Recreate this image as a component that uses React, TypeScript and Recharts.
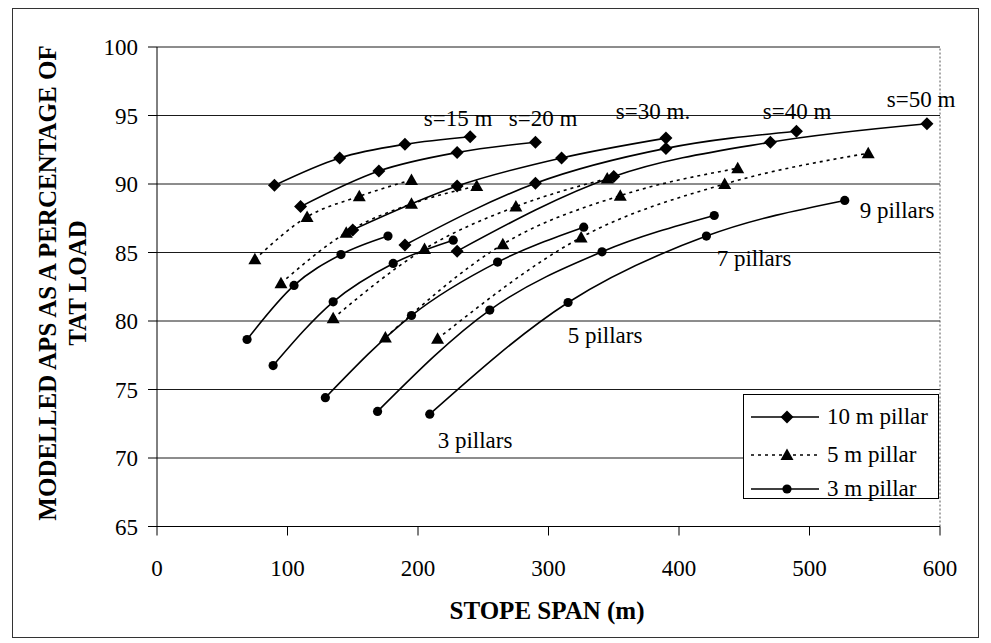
import React from 'react';
import { LineChart, Line, XAxis, YAxis, CartesianGrid, ReferenceLine } from 'recharts';

const SERIF = '"Liberation Serif", "Times New Roman", serif';

// pillar spacing s (m) for each curve, in order
const SPACINGS = [15, 20, 30, 40, 50];
// stope span (m) at 3, 5, 7 and 9 pillars
const SPAN_10M = [[90, 140, 190, 240], [110, 170, 230, 290], [150, 230, 310, 390], [190, 290, 390, 490], [230, 350, 470, 590]];
const SPAN_5M = [[75, 115, 155, 195], [95, 145, 195, 245], [135, 205, 275, 345], [175, 265, 355, 445], [215, 325, 435, 545]];
const SPAN_3M = [[69, 105, 141, 177], [89, 135, 181, 227], [129, 195, 261, 327], [169, 255, 341, 427], [209, 315, 421, 527]];
// modelled APS as % of TAT load
const APS_10M = [[89.9, 91.9, 92.9, 93.45], [88.35, 90.95, 92.3, 93.05], [86.65, 89.85, 91.9, 93.35], [85.55, 90.05, 92.6, 93.85], [85.1, 90.55, 93.05, 94.4]];
const APS_5M = [[84.5, 87.6, 89.1, 90.3], [82.75, 86.45, 88.55, 89.85], [80.2, 85.25, 88.35, 90.4], [78.8, 85.6, 89.15, 91.15], [78.7, 86.1, 90.0, 92.25]];
const APS_3M = [[78.65, 82.6, 84.85, 86.2], [76.75, 81.4, 84.2, 85.9], [74.4, 80.4, 84.3, 86.85], [73.4, 80.8, 85.05, 87.7], [73.2, 81.35, 86.2, 88.8]];

const X_TICKS = [0, 100, 200, 300, 400, 500, 600];
const Y_TICKS = [65, 70, 75, 80, 85, 90, 95, 100];

const NOTES = [
  { text: 's=15 m', left: 458, top: 118 },
  { text: 's=20 m', left: 543, top: 118 },
  { text: 's=30 m.', left: 653, top: 111 },
  { text: 's=40 m', left: 797, top: 111 },
  { text: 's=50 m', left: 921, top: 99 },
  { text: '9 pillars', left: 897, top: 210 },
  { text: '7 pillars', left: 754, top: 258 },
  { text: '5 pillars', left: 605, top: 335 },
  { text: '3 pillars', left: 475, top: 440 },
];

type Shape = 'diamond' | 'triangle' | 'circle';

function marker(shape: Shape, cx: number, cy: number, key?: any) {
  if (shape === 'diamond') {
    return <path key={key} d={`M${cx},${cy - 6.5}L${cx + 6.5},${cy}L${cx},${cy + 6.5}L${cx - 6.5},${cy}Z`} fill="#000" />;
  }
  if (shape === 'triangle') {
    return <path key={key} d={`M${cx},${cy - 6.5}L${cx + 6.5},${cy + 5}L${cx - 6.5},${cy + 5}Z`} fill="#000" />;
  }
  return <circle key={key} cx={cx} cy={cy} r={4.6} fill="#000" />;
}

const makeDot = (shape: Shape) => (p: any) => {
  if (p.cx == null || p.cy == null) return <g key={`e-${p.index}`} />;
  return marker(shape, p.cx, p.cy, `m-${p.index}`);
};

const GROUPS = [
  { name: '10 m pillar', spans: SPAN_10M, aps: APS_10M, shape: 'diamond' as Shape, dash: undefined },
  { name: '5 m pillar', spans: SPAN_5M, aps: APS_5M, shape: 'triangle' as Shape, dash: '3 4' },
  { name: '3 m pillar', spans: SPAN_3M, aps: APS_3M, shape: 'circle' as Shape, dash: undefined },
];

const tickStyle = { fontSize: 23, fontFamily: SERIF, fill: '#000' };

function LegendBox() {
  return (
    <div style={{ position: 'absolute', left: 743, top: 394, width: 194, height: 103, background: '#fff', border: '1px solid #000' }}>
      {GROUPS.map((g, i) => (
        <div key={g.name} style={{ position: 'absolute', left: 0, top: [22, 60, 94][i] - 14, height: 28, display: 'flex', alignItems: 'center' }}>
          <svg width={80} height={28} style={{ display: 'block' }}>
            <line x1={7} y1={14} x2={75} y2={14} stroke="#000" strokeWidth={1.6} strokeDasharray={g.dash} />
            {marker(g.shape, 43, 14)}
          </svg>
          <span style={{ fontSize: 23, marginLeft: 3, whiteSpace: 'nowrap' }}>{g.name}</span>
        </div>
      ))}
    </div>
  );
}

export default function App() {
  return (
    <div style={{ position: 'absolute', left: 0, top: 0, width: 991, height: 643, background: '#fff', fontFamily: SERIF, color: '#000', overflow: 'hidden' }}>
      <div style={{ position: 'absolute', left: 12, top: 8, width: 965, height: 628, border: '1px solid #333' }} />
      <LineChart width={991} height={643} margin={{ top: 47, right: 51, bottom: 56.5, left: 97 }} style={{ position: 'absolute', left: 0, top: 0 }}>
        <CartesianGrid vertical={false} stroke="#1a1a1a" />
        <XAxis type="number" dataKey="x" domain={[0, 600]} ticks={X_TICKS} stroke="#000" tickSize={9} tickMargin={24} height={60} tick={tickStyle} allowDuplicatedCategory={false} />
        <YAxis type="number" domain={[65, 100]} ticks={Y_TICKS} stroke="#000" tickSize={9} tickMargin={10} width={60} tick={tickStyle} />
        <ReferenceLine x={600} stroke="#555" strokeDasharray="2 2" />
        {GROUPS.map((g) =>
          SPACINGS.map((s, i) => (
            <Line
              key={`${g.name}-${s}`}
              name={`${g.name} s=${s}`}
              data={g.spans[i].map((x, k) => ({ x, y: g.aps[i][k] }))}
              dataKey="y"
              type="monotone"
              stroke="#000"
              strokeWidth={1.6}
              strokeDasharray={g.dash}
              dot={makeDot(g.shape)}
              activeDot={false}
              isAnimationActive={false}
            />
          ))
        )}
      </LineChart>
      {NOTES.map((n) => (
        <div key={n.text} style={{ position: 'absolute', left: n.left, top: n.top, transform: 'translate(-50%, -50%)', fontSize: 23, lineHeight: 1, whiteSpace: 'nowrap' }}>
          {n.text}
        </div>
      ))}
      <LegendBox />
      <div style={{ position: 'absolute', left: 547, top: 611, transform: 'translate(-50%, -50%)', fontSize: 25, fontWeight: 'bold', whiteSpace: 'nowrap' }}>
        STOPE SPAN (m)
      </div>
      <div style={{ position: 'absolute', left: 63, top: 283, transform: 'translate(-50%, -50%) rotate(-90deg)', fontSize: 25, fontWeight: 'bold', lineHeight: '30px', textAlign: 'center', whiteSpace: 'nowrap' }}>
        MODELLED APS AS A PERCENTAGE OF
        <br />
        TAT LOAD
      </div>
    </div>
  );
}
